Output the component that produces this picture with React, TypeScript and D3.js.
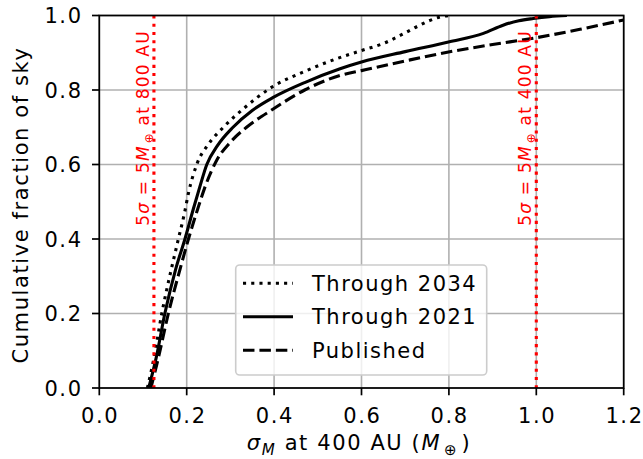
import React from "react";
import * as d3 from "d3";

const thr2034X = [0.110, 0.125, 0.143, 0.165, 0.181, 0.195, 0.204, 0.223, 0.25, 0.284, 0.33, 0.394, 0.47, 0.543, 0.600, 0.65, 0.696, 0.73, 0.757, 0.78, 0.80];
const thr2034Y = [0, 0.08, 0.2, 0.32, 0.4, 0.47, 0.523, 0.6, 0.655, 0.70, 0.75, 0.807, 0.85, 0.884, 0.906, 0.925, 0.951, 0.972, 0.987, 0.996, 1.0];

const thr2021X = [0.113, 0.130, 0.150, 0.175, 0.196, 0.215, 0.230, 0.246, 0.270, 0.306, 0.350, 0.398, 0.47, 0.551, 0.600, 0.70, 0.799, 0.879, 0.924, 0.960, 0.993, 1.03, 1.07];
const thr2021Y = [0, 0.08, 0.2, 0.32, 0.4, 0.48, 0.54, 0.6, 0.65, 0.70, 0.745, 0.78, 0.82, 0.857, 0.875, 0.903, 0.929, 0.952, 0.974, 0.986, 0.992, 0.997, 1.0];

const pubX = [0.118, 0.135, 0.158, 0.185, 0.204, 0.225, 0.242, 0.269, 0.30, 0.337, 0.398, 0.47, 0.551, 0.600, 0.70, 0.799, 0.90, 0.993, 1.10, 1.2];
const pubY = [0, 0.08, 0.2, 0.32, 0.4, 0.48, 0.54, 0.612, 0.66, 0.70, 0.749, 0.80, 0.839, 0.852, 0.878, 0.902, 0.922, 0.939, 0.963, 0.988];

const xTicks = [0.0, 0.2, 0.4, 0.6, 0.8, 1.0, 1.2];
const yTicks = [0.0, 0.2, 0.4, 0.6, 0.8, 1.0];
const vLines = [0.125, 1.0];
const vLabels = ["800", "400"];
const legendLabels = ["Through 2034", "Through 2021", "Published"];

const W = 643, H = 459;
const L = 99.3, R = 623.7, T = 15.5, B = 388;
const FONT = "DejaVu Sans, sans-serif";
const LW = 3.1;

export default function App() {
  const x = d3.scaleLinear().domain([0, 1.2]).range([L, R]);
  const y = d3.scaleLinear().domain([0, 1]).range([B, T]);
  const line = d3.line<[number, number]>().x(d => x(d[0])).y(d => y(d[1])).curve(d3.curveMonotoneX);
  const series = [
    { xs: thr2034X, ys: thr2034Y, dash: `${LW} ${LW * 1.65}` },
    { xs: thr2021X, ys: thr2021Y, dash: "none" },
    { xs: pubX, ys: pubY, dash: `${LW * 3.7} ${LW * 1.6}` },
  ];
  const fs = 21;
  const ls = 1.6;
  const annFs = 17;
  const annLs = 1.2;
  return (
    <svg width={W} height={H} style={{ position: "absolute", left: 0, top: 0 }} fontFamily={FONT}>
      <rect x={0} y={0} width={W} height={H} fill="#fff" />
      <defs>
        <clipPath id="clip"><rect x={L} y={T} width={R - L} height={B - T} /></clipPath>
      </defs>
      {xTicks.map(t => (
        <line key={"gx" + t} x1={x(t)} x2={x(t)} y1={T} y2={B} stroke="#b0b0b0" strokeWidth={1.6} />
      ))}
      {yTicks.map(t => (
        <line key={"gy" + t} x1={L} x2={R} y1={y(t)} y2={y(t)} stroke="#b0b0b0" strokeWidth={1.6} />
      ))}
      <g clipPath="url(#clip)">
        {series.map((s, i) => (
          <path key={i} d={line(s.xs.map((v, j) => [v, s.ys[j]] as [number, number])) || ""}
            fill="none" stroke="#000" strokeWidth={LW} strokeDasharray={s.dash} />
        ))}
      </g>
      {vLines.map((v, i) => (
        <g key={"v" + i}>
          <line x1={x(v)} x2={x(v)} y1={T} y2={B} stroke="#ff0000" strokeWidth={LW}
            strokeDasharray={`${LW} ${LW * 1.65}`} />
          <text transform={`translate(${x(v) - 5},${128}) rotate(-90)`} textAnchor="middle"
            fill="#ff0000" fontSize={annFs} letterSpacing={annLs}>
            <tspan>5</tspan><tspan fontStyle="italic">σ</tspan><tspan> = 5</tspan>
            <tspan fontStyle="italic">M</tspan>
            <tspan dx={2} dy={4} fontSize={annFs * 0.7}>⊕</tspan>
            <tspan dy={-4}> at {vLabels[i]} AU</tspan>
          </text>
        </g>
      ))}
      <rect x={L} y={T} width={R - L} height={B - T} fill="none" stroke="#000" strokeWidth={1.7} />
      {xTicks.map(t => (
        <g key={"xt" + t}>
          <line x1={x(t)} x2={x(t)} y1={B} y2={B + 7.3} stroke="#000" strokeWidth={1.7} />
          <text x={x(t) + ls / 2} y={422.5} textAnchor="middle" fontSize={fs} letterSpacing={ls}>{t.toFixed(1)}</text>
        </g>
      ))}
      {yTicks.map(t => (
        <g key={"yt" + t}>
          <line x1={L - 7.3} x2={L} y1={y(t)} y2={y(t)} stroke="#000" strokeWidth={1.7} />
          <text x={81 + ls} y={y(t)} dy="0.36em" textAnchor="end" fontSize={fs} letterSpacing={ls}>{t.toFixed(1)}</text>
        </g>
      ))}
      <text x={359} y={450} textAnchor="middle" fontSize={fs} letterSpacing={ls}>
        <tspan fontStyle="italic">σ</tspan>
        <tspan dy={5} fontStyle="italic" fontSize={fs * 0.72}>M</tspan>
        <tspan dy={-5}> at 400 AU (</tspan>
        <tspan fontStyle="italic">M</tspan>
        <tspan dx={3} dy={5} fontSize={fs * 0.72}>⊕</tspan>
        <tspan dx={3} dy={-5}>)</tspan>
      </text>
      <text transform={`translate(${28},${205}) rotate(-90)`} textAnchor="middle" fontSize={fs} letterSpacing={ls}>
        Cumulative fraction of sky
      </text>
      <g>
        <rect x={235.7} y={265} width={251} height={110} rx={4} fill="#fff" fillOpacity={0.8}
          stroke="#cccccc" strokeWidth={1.6} />
        {legendLabels.map((lab, i) => {
          const yy = 283.3 + i * 33.5;
          return (
            <g key={lab}>
              <line x1={243} x2={293} y1={yy} y2={yy} stroke="#000" strokeWidth={LW}
                strokeDasharray={series[i].dash} />
              <text x={312} y={yy} dy="0.36em" fontSize={fs} letterSpacing={1.5}>{lab}</text>
            </g>
          );
        })}
      </g>
    </svg>
  );
}
